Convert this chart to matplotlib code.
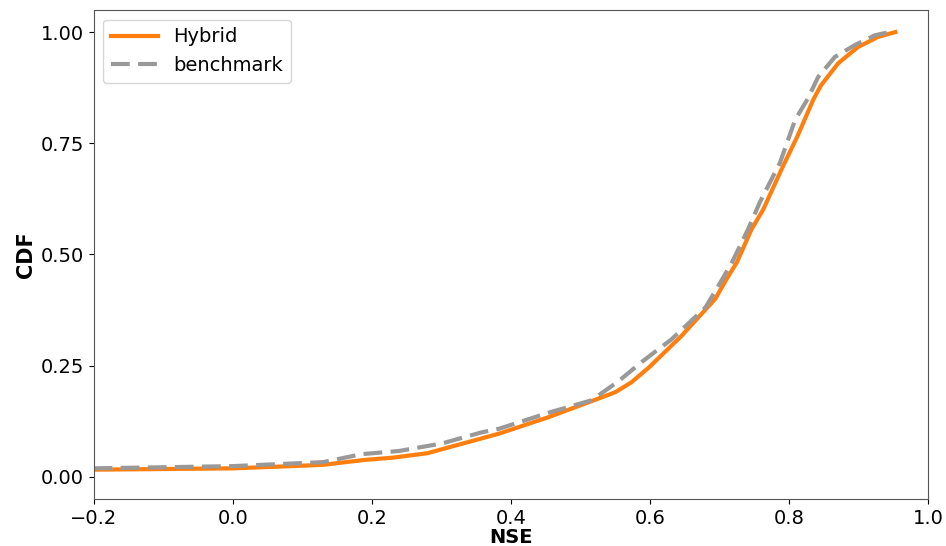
import matplotlib.pyplot as plt
import numpy as np

# NSE values and CDF
hybrid_nse = [-0.2, 0.0, 0.1, 0.13, 0.19, 0.23, 0.28, 0.315, 0.383, 0.454, 0.516, 0.55, 0.573,
              0.598, 0.645, 0.694, 0.71, 0.725, 0.746, 0.763, 0.791, 0.812, 0.835, 0.846,
              0.871, 0.899, 0.928, 0.953]
hybrid_cdf = [0.016, 0.019, 0.025, 0.027, 0.038, 0.043, 0.053, 0.068, 0.097, 0.134, 0.17, 0.19,
              0.212, 0.245, 0.316, 0.40, 0.444, 0.482, 0.556, 0.601, 0.697, 0.765, 0.848,
              0.88, 0.93, 0.966, 0.989, 1.0]

bench_nse = [-0.2, 0.0, 0.13, 0.186, 0.239, 0.301, 0.358, 0.383, 0.454, 0.516, 0.555, 0.588,
             0.631, 0.68, 0.698, 0.718, 0.741, 0.758, 0.787, 0.809, 0.827, 0.842, 0.866,
             0.895, 0.924, 0.942]
bench_cdf = [0.019, 0.024, 0.033, 0.051, 0.058, 0.075, 0.1, 0.108, 0.144, 0.172, 0.215, 0.258,
             0.309, 0.381, 0.428, 0.482, 0.556, 0.617, 0.706, 0.803, 0.85, 0.899, 0.944,
             0.971, 0.993, 0.999]

fig = plt.figure(figsize=(9.46, 5.46), dpi=100)
ax = fig.add_axes([0.099, 0.086, 0.882, 0.896])

ax.plot(hybrid_nse, hybrid_cdf, color='#ff7f0e', lw=3, label='Hybrid')
ax.plot(bench_nse, bench_cdf, color='#999999', lw=3, ls=(0, (4.5, 2)), label='benchmark')

ax.set_xlim(-0.2, 1.0)
ax.set_ylim(-0.05, 1.05)
ax.set_yticks([0.0, 0.25, 0.5, 0.75, 1.0])
ax.set_xlabel('NSE', fontsize=14, fontweight='bold', labelpad=0)
ax.set_ylabel('CDF', fontsize=15, fontweight='bold', labelpad=3)
ax.tick_params(labelsize=14)
for s in ax.spines.values():
    s.set_color('#555555')
ax.legend(loc='upper left', fontsize=14, handlelength=2.4, borderaxespad=0.5)

fig.savefig('out.png', dpi=100)
